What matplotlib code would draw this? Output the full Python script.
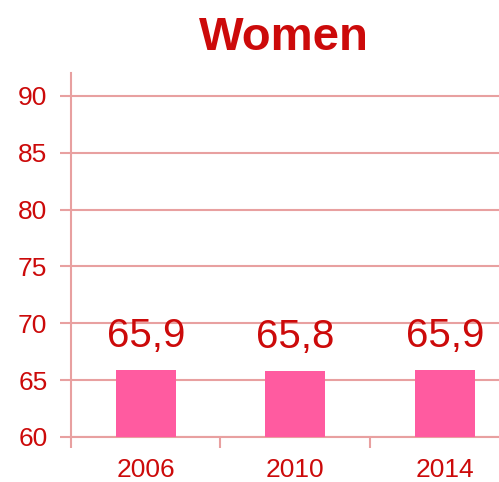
import matplotlib.pyplot as plt
import numpy as np

plt.rcParams['font.family'] = ['Liberation Sans', 'DejaVu Sans']

years = ['2006', '2010', '2014']
values = [65.9, 65.8, 65.9]
labels = ['65,9', '65,8', '65,9']

red = '#CC0A0A'
pink = '#E8A0A0'
bar_color = '#FF5BA0'

fig = plt.figure(figsize=(4.99, 4.82), dpi=100)
ax = fig.add_axes([71/499, 45/482, 448.5/499, 364/482])

x = np.arange(len(years))
ax.bar(x, [v - 60 for v in values], bottom=60, width=0.4, color=bar_color, zorder=3)

for xi, v, lab in zip(x, values, labels):
    ax.annotate(lab, (xi, v), xytext=(0, 16.5), textcoords='offset points',
                ha='center', va='baseline', fontsize=29, color=red, zorder=4)

ax.set_ylim(60, 92)
ax.set_yticks(range(60, 91, 5))
ax.set_xlim(-0.5, 2.5)
ax.set_xticks(x)
ax.set_xticklabels(years)
ax.set_xticks([-0.5, 0.5, 1.5, 2.5], minor=True)
ax.tick_params(axis='x', which='major', length=0, pad=15, labelsize=19, labelcolor=red)
ax.tick_params(axis='x', which='minor', length=8, width=1.5, color=pink)
ax.tick_params(axis='y', length=8, width=1.5, color=pink, pad=9, labelsize=19, labelcolor=red)

ax.yaxis.grid(True, color=pink, linewidth=1.5, zorder=0)
ax.set_axisbelow(True)
for s in ['top', 'right']:
    ax.spines[s].set_visible(False)
for s in ['left', 'bottom']:
    ax.spines[s].set_color(pink)
    ax.spines[s].set_linewidth(1.5)

fig.text(284/499, 1 - 50/482, 'Women', ha='center', va='baseline',
         fontsize=34, fontweight='bold', color=red)

fig.savefig('out.png', dpi=100)
